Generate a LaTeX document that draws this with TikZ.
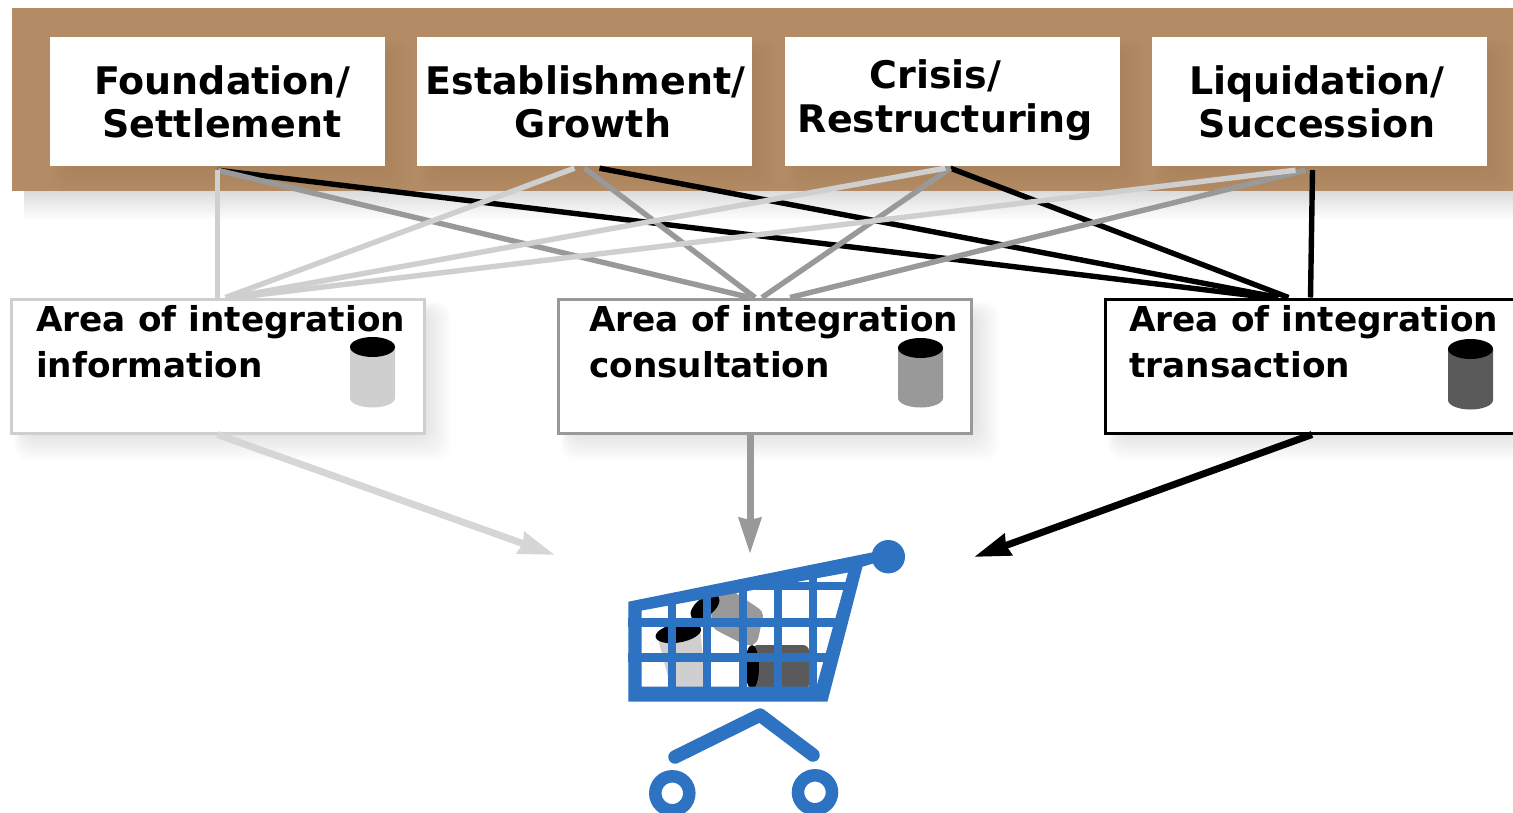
\documentclass[tikz,border=0pt]{standalone}
\usepackage{fontspec}
\setmainfont{DejaVu Sans}
\usetikzlibrary{arrows.meta,calc}
\definecolor{bandbrown}{HTML}{B38C66}
\definecolor{cartblue}{HTML}{2E73C2}
\definecolor{lightl}{HTML}{CFCFCF}
\definecolor{midl}{HTML}{999999}
\definecolor{darkbody}{HTML}{5A5A5A}
\tikzset{
  x=1pt,y=-1pt,
  phase/.style={fill=white,minimum width=335pt,minimum height=129pt,inner sep=0pt},
  area/.style={fill=white,line width=3pt,minimum width=413pt,minimum height=134pt,inner sep=0pt},
  phasetext/.style={font=\fontsize{38}{43.5}\selectfont\bfseries,align=center,inner sep=0pt},
  areatext/.style={font=\fontsize{34.3}{46}\selectfont\bfseries,align=left,inner sep=0pt,anchor=north west},
  link/.style={line width=5.4pt},
  flow/.style={line width=7pt,-{Triangle[length=36pt,width=22pt,inset=2pt]}},
}
\newcommand{\softshadow}[5]{% x1,y1,x2,y2,opacity
  \foreach \s in {0,3,...,27}{
    \fill[black,opacity=#5,rounded corners=14pt]
      ({#1+14-\s*0.4},{#2+14-\s*0.4}) rectangle ({#3+\s},{#4+\s});
  }}
\newcommand{\drum}[4]{% cx, top y, bottom y, colour
  \fill[#4] ({#1-22.5},#2) -- ({#1-22.5},#3) arc[start angle=180,end angle=360,x radius=22.5,y radius=-9.5]
     -- ({#1+22.5},#2) -- cycle;
  \fill[black] (#1,#2) ellipse[x radius=22.5,y radius=10];
}
\begin{document}
\begin{tikzpicture}
\useasboundingbox (0,0) rectangle (1513,812);
\fill[white] (0,0) rectangle (1513,812);
% band
\shade[top color=black!14,bottom color=white] (24,191) rectangle (1540,220);
\fill[bandbrown] (12,8) rectangle (1540,191);
% phase boxes
\softshadow{50}{37}{385}{166}{0.003}
\softshadow{417}{37}{752}{166}{0.003}
\softshadow{785}{37}{1120}{166}{0.003}
\softshadow{1152}{37}{1487}{166}{0.003}
\node[phase] (f1) at (217.5,101.5) {};
\node[phase] (f2) at (584.5,101.5) {};
\node[phase] (f3) at (952.5,101.5) {};
\node[phase] (f4) at (1319.5,101.5) {};
\node[phasetext] (t1) at (222,102) {Foundation/\\Settlement};
\node[phasetext] (t2) at (585.5,102) {Establishment/\\\hspace*{15pt}Growth};
\node[phasetext] (t3) at (945.5,100) {Crisis/\hspace*{20pt}\\Restructuring};
\node[phasetext] (t4) at (1317,102) {Liquidation/\\Succession};
% area shadows
\softshadow{11}{299}{424}{433}{0.012}
\softshadow{558}{299}{972}{433}{0.012}
\softshadow{1105}{299}{1540}{433}{0.012}
% area boxes
\node[area,draw=lightl] (a1) at (217.5,366) {};
\node[area,draw=midl] (a2) at (765,366) {};
\node[area,draw=black,minimum width=440pt] (a3) at (1325,366) {};
\node[areatext] (at1) at (36,305) {Area of integration\\information};
\node[areatext] (at2) at (589,305) {Area of integration\\consultation};
\node[areatext] (at3) at (1129,305) {Area of integration\\transaction};
\drum{372.5}{347}{398}{lightl}
\drum{920.5}{348}{398}{midl}
\drum{1470.5}{349}{400}{darkbody}
% connectors: black
\draw[link,black] ([yshift=-4pt]f1.south) -- ([xshift=165pt]a3.north west);
\draw[link,black] ([xshift=15pt,yshift=-2pt]f2.south) -- ([xshift=175pt]a3.north west);
\draw[link,black] ([xshift=-2pt,yshift=-2pt]f3.south) -- ([xshift=185pt]a3.north west);
\draw[link,black] ([xshift=-7pt,yshift=-4pt]f4.south) -- ([xshift=207pt]a3.north west);
% connectors: mid
\draw[link,midl] ([yshift=-4pt]f1.south) -- ([xshift=-15pt]a2.north);
\draw[link,midl] ([xshift=0pt,yshift=-2pt]f2.south) -- ([xshift=-10pt]a2.north);
\draw[link,midl] ([xshift=-2pt,yshift=-2pt]f3.south) -- ([xshift=-3pt]a2.north);
\draw[link,midl] ([xshift=-14pt,yshift=-4pt]f4.south) -- ([xshift=25pt]a2.north);
% connectors: light
\draw[link,lightl] ([yshift=-4pt]f1.south) -- (a1.north);
\draw[link,lightl] ([xshift=-10pt,yshift=-2pt]f2.south) -- ([xshift=8pt]a1.north);
\draw[link,lightl] ([xshift=-7pt,yshift=-2pt]f3.south) -- ([xshift=13pt]a1.north);
\draw[link,lightl] ([xshift=-24pt,yshift=-4pt]f4.south) -- ([xshift=18pt]a1.north);
% flows
\coordinate (c1) at (555,555);
\coordinate (c2) at (750,554);
\coordinate (c3) at (974,557);
\draw[flow,lightl!85!white] (a1.south) -- (c1);
\draw[flow,midl] ([xshift=-15pt]a2.south) -- (c2);
\draw[flow,black] ([xshift=-13pt]a3.south) -- (c3);
% cart contents
\fill[white] (628,602) -- (877,553) -- (827,701) -- (628,701) -- cycle;
\fill[lightl,rounded corners=3pt] (658.3,640) -- (700,628.3) -- (706,690) -- (671.7,690) -- cycle;
\fill[black,rotate around={10:(678.3,633)}] (678.3,633) ellipse[x radius=23,y radius=9.5];
\fill[midl,rounded corners=6pt] (710,593) -- (733,591) -- (764,612) -- (757,644) -- (747,646) -- (712,628) -- cycle;
\fill[black,rotate around={38:(705,607)}] (705,607) ellipse[x radius=17,y radius=9];
\fill[darkbody,rounded corners=6pt] (752,645) rectangle (809,690);
\fill[black] (752,667) ellipse[x radius=7,y radius=22];
% cart grid
\begin{scope}
\clip (628,602) -- (877,553) -- (861.7,566.7) -- (826.7,701) -- (628,701) -- cycle;
\foreach \gx in {671.7,706.7,742.7,778,813}
  \fill[cartblue] ({\gx-4},540) rectangle ({\gx+4},701);
\fill[cartblue] (628,617.5) rectangle (880,626.5);
\fill[cartblue] (628,653) rectangle (880,661.5);
\fill[cartblue] (755,582) rectangle (880,590);
\end{scope}
% cart frame
\fill[cartblue,even odd rule]
  (628.3,601.7) -- (876.7,551.5) -- (878,562) -- (862.5,566.7) -- (827.5,701.5) -- (628.3,701.5) -- cycle
  (641.7,610.5) -- (848,572.5) -- (816.5,686.5) -- (641.7,686.5) -- cycle;
\fill[cartblue] (888.3,556.7) circle[radius=16.7];
\draw[cartblue,line width=13.5pt,line cap=round,line join=round] (675,757) -- (760,715) -- (813,755);
\draw[cartblue,line width=12.5pt] (672.3,793.3) circle[radius=17];
\draw[cartblue,line width=12.5pt] (815,792.3) circle[radius=17];
\end{tikzpicture}
\end{document}
